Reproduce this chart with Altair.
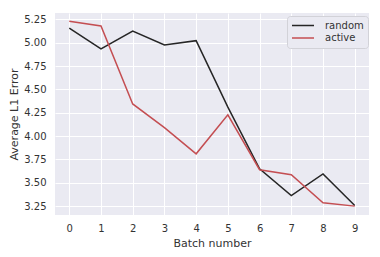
import altair as alt
import pandas as pd

batches = [0, 1, 2, 3, 4, 5, 6, 7, 8, 9]
random_err = [5.157, 4.933, 5.125, 4.975, 5.022, 4.31, 3.65, 3.363, 3.594, 3.256]
active_err = [5.229, 5.179, 4.344, 4.09, 3.81, 4.227, 3.64, 3.587, 3.285, 3.25]
series = ["random", "active"]
colors = ["#262626", "#C44E52"]
y_ticks = [3.25, 3.5, 3.75, 4.0, 4.25, 4.5, 4.75, 5.0, 5.25]

rows = []
for b, r, a in zip(batches, random_err, active_err):
    rows.append({"batch": b, "err": r, "series": "random"})
    rows.append({"batch": b, "err": a, "series": "active"})
df = pd.DataFrame(rows)

font = "DejaVu Sans"
txt = "#333333"

chart = alt.Chart(df).mark_line(strokeWidth=1.5).encode(
    x=alt.X("batch:Q", title="Batch number",
            scale=alt.Scale(domain=[-0.45, 9.45], nice=False, zero=False),
            axis=alt.Axis(values=batches, format="d", tickSize=0, labelPadding=8,
                          titlePadding=4, domain=False, gridColor="white", gridWidth=1)),
    y=alt.Y("err:Q", title="Average L1 Error",
            scale=alt.Scale(domain=[3.155, 5.318], nice=False, zero=False),
            axis=alt.Axis(values=y_ticks, format=".2f", tickSize=0, labelPadding=9,
                          titlePadding=4, domain=False, gridColor="white", gridWidth=1)),
    color=alt.Color("series:N", scale=alt.Scale(domain=series, range=colors),
                    legend=alt.Legend(title=None, orient="none", legendX=232, legendY=3,
                                      symbolType="stroke", symbolSize=484, symbolStrokeWidth=1.5,
                                      clipHeight=11, rowPadding=1.5, labelOffset=10,
                                      fillColor="#EAEAF2", strokeColor="#D2D2D8",
                                      cornerRadius=3, padding=4,
                                      labelFont=font, labelFontSize=10, labelColor=txt)),
    order=alt.Order("batch:Q"),
).properties(
    width=314, height=202,
    autosize=alt.AutoSizeParams(type="none"),
    padding={"left": 47, "top": 5, "right": 3, "bottom": 34},
    background="white",
).configure_view(
    fill="#EAEAF2", stroke=None
).configure_axis(
    labelFont=font, titleFont=font, labelFontSize=10, titleFontSize=11,
    labelColor=txt, titleColor=txt, titleFontWeight="normal"
)

chart.save("out.html", embed_options={"renderer": "svg", "actions": False})
